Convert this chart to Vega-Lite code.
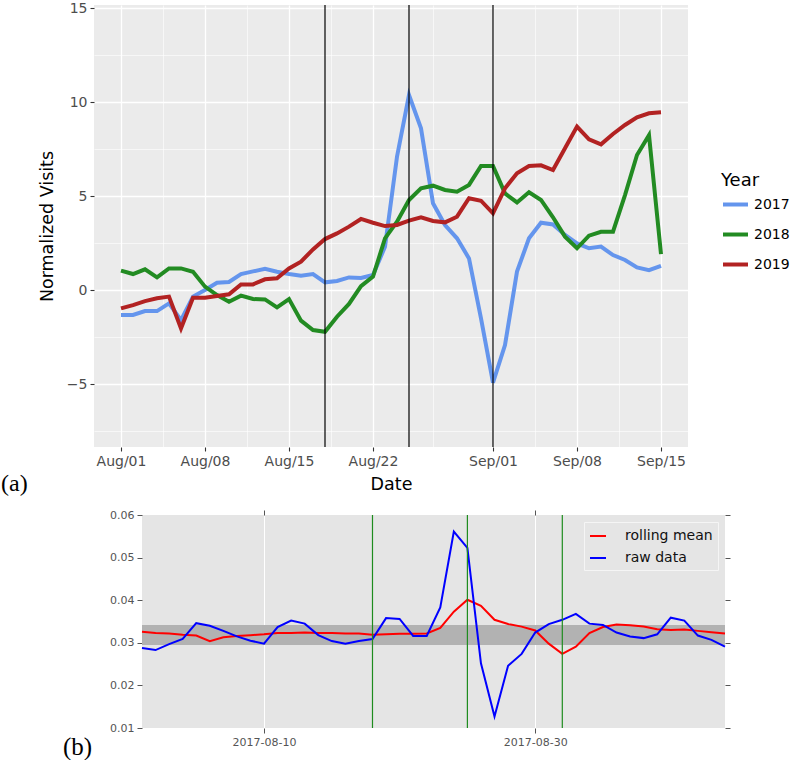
{
  "$schema": "https://vega.github.io/schema/vega-lite/v6.json",
  "padding": {"left": 1, "top": 1, "right": 0, "bottom": 0},
  "bounds": "flush",
  "spacing": 68,
  "config": {
    "font": "DejaVu Sans",
    "view": {"stroke": null},
    "title": {"font": "Liberation Serif", "fontWeight": "normal", "color": "#000000"}
  },
  "resolve": {"scale": {"color": "independent"}, "legend": {"color": "independent"}},
  "datasets": {
    "visits": [
      {"date": "2017-08-01", "year": "2017", "visits": -1.33},
      {"date": "2017-08-02", "year": "2017", "visits": -1.33},
      {"date": "2017-08-03", "year": "2017", "visits": -1.12},
      {"date": "2017-08-04", "year": "2017", "visits": -1.12},
      {"date": "2017-08-05", "year": "2017", "visits": -0.71},
      {"date": "2017-08-06", "year": "2017", "visits": -1.6},
      {"date": "2017-08-07", "year": "2017", "visits": -0.35},
      {"date": "2017-08-08", "year": "2017", "visits": 0.0},
      {"date": "2017-08-09", "year": "2017", "visits": 0.39},
      {"date": "2017-08-10", "year": "2017", "visits": 0.43},
      {"date": "2017-08-11", "year": "2017", "visits": 0.85},
      {"date": "2017-08-12", "year": "2017", "visits": 0.99},
      {"date": "2017-08-13", "year": "2017", "visits": 1.13},
      {"date": "2017-08-14", "year": "2017", "visits": 0.97},
      {"date": "2017-08-15", "year": "2017", "visits": 0.85},
      {"date": "2017-08-16", "year": "2017", "visits": 0.76},
      {"date": "2017-08-17", "year": "2017", "visits": 0.85},
      {"date": "2017-08-18", "year": "2017", "visits": 0.41},
      {"date": "2017-08-19", "year": "2017", "visits": 0.48},
      {"date": "2017-08-20", "year": "2017", "visits": 0.67},
      {"date": "2017-08-21", "year": "2017", "visits": 0.64},
      {"date": "2017-08-22", "year": "2017", "visits": 0.80},
      {"date": "2017-08-23", "year": "2017", "visits": 2.3},
      {"date": "2017-08-24", "year": "2017", "visits": 7.09},
      {"date": "2017-08-25", "year": "2017", "visits": 10.37},
      {"date": "2017-08-26", "year": "2017", "visits": 8.6},
      {"date": "2017-08-27", "year": "2017", "visits": 4.61},
      {"date": "2017-08-28", "year": "2017", "visits": 3.46},
      {"date": "2017-08-29", "year": "2017", "visits": 2.75},
      {"date": "2017-08-30", "year": "2017", "visits": 1.68},
      {"date": "2017-08-31", "year": "2017", "visits": -1.51},
      {"date": "2017-09-01", "year": "2017", "visits": -4.93},
      {"date": "2017-09-02", "year": "2017", "visits": -2.93},
      {"date": "2017-09-03", "year": "2017", "visits": 0.98},
      {"date": "2017-09-04", "year": "2017", "visits": 2.75},
      {"date": "2017-09-05", "year": "2017", "visits": 3.58},
      {"date": "2017-09-06", "year": "2017", "visits": 3.49},
      {"date": "2017-09-07", "year": "2017", "visits": 2.93},
      {"date": "2017-09-08", "year": "2017", "visits": 2.48},
      {"date": "2017-09-09", "year": "2017", "visits": 2.22},
      {"date": "2017-09-10", "year": "2017", "visits": 2.31},
      {"date": "2017-09-11", "year": "2017", "visits": 1.86},
      {"date": "2017-09-12", "year": "2017", "visits": 1.6},
      {"date": "2017-09-13", "year": "2017", "visits": 1.2},
      {"date": "2017-09-14", "year": "2017", "visits": 1.06},
      {"date": "2017-09-15", "year": "2017", "visits": 1.29},
      {"date": "2017-08-01", "year": "2018", "visits": 1.03},
      {"date": "2017-08-02", "year": "2018", "visits": 0.85},
      {"date": "2017-08-03", "year": "2018", "visits": 1.1},
      {"date": "2017-08-04", "year": "2018", "visits": 0.67},
      {"date": "2017-08-05", "year": "2018", "visits": 1.15},
      {"date": "2017-08-06", "year": "2018", "visits": 1.15},
      {"date": "2017-08-07", "year": "2018", "visits": 0.97},
      {"date": "2017-08-08", "year": "2018", "visits": 0.18},
      {"date": "2017-08-09", "year": "2018", "visits": -0.27},
      {"date": "2017-08-10", "year": "2018", "visits": -0.62},
      {"date": "2017-08-11", "year": "2018", "visits": -0.3},
      {"date": "2017-08-12", "year": "2018", "visits": -0.48},
      {"date": "2017-08-13", "year": "2018", "visits": -0.5},
      {"date": "2017-08-14", "year": "2018", "visits": -0.92},
      {"date": "2017-08-15", "year": "2018", "visits": -0.48},
      {"date": "2017-08-16", "year": "2018", "visits": -1.63},
      {"date": "2017-08-17", "year": "2018", "visits": -2.13},
      {"date": "2017-08-18", "year": "2018", "visits": -2.22},
      {"date": "2017-08-19", "year": "2018", "visits": -1.42},
      {"date": "2017-08-20", "year": "2018", "visits": -0.74},
      {"date": "2017-08-21", "year": "2018", "visits": 0.21},
      {"date": "2017-08-22", "year": "2018", "visits": 0.71},
      {"date": "2017-08-23", "year": "2018", "visits": 2.75},
      {"date": "2017-08-24", "year": "2018", "visits": 3.63},
      {"date": "2017-08-25", "year": "2018", "visits": 4.79},
      {"date": "2017-08-26", "year": "2018", "visits": 5.41},
      {"date": "2017-08-27", "year": "2018", "visits": 5.55},
      {"date": "2017-08-28", "year": "2018", "visits": 5.32},
      {"date": "2017-08-29", "year": "2018", "visits": 5.23},
      {"date": "2017-08-30", "year": "2018", "visits": 5.59},
      {"date": "2017-08-31", "year": "2018", "visits": 6.6},
      {"date": "2017-09-01", "year": "2018", "visits": 6.6},
      {"date": "2017-09-02", "year": "2018", "visits": 5.14},
      {"date": "2017-09-03", "year": "2018", "visits": 4.66},
      {"date": "2017-09-04", "year": "2018", "visits": 5.2},
      {"date": "2017-09-05", "year": "2018", "visits": 4.79},
      {"date": "2017-09-06", "year": "2018", "visits": 3.87},
      {"date": "2017-09-07", "year": "2018", "visits": 2.84},
      {"date": "2017-09-08", "year": "2018", "visits": 2.22},
      {"date": "2017-09-09", "year": "2018", "visits": 2.89},
      {"date": "2017-09-10", "year": "2018", "visits": 3.1},
      {"date": "2017-09-11", "year": "2018", "visits": 3.1},
      {"date": "2017-09-12", "year": "2018", "visits": 5.05},
      {"date": "2017-09-13", "year": "2018", "visits": 7.18},
      {"date": "2017-09-14", "year": "2018", "visits": 8.24},
      {"date": "2017-09-15", "year": "2018", "visits": 1.91},
      {"date": "2017-08-01", "year": "2019", "visits": -0.98},
      {"date": "2017-08-02", "year": "2019", "visits": -0.8},
      {"date": "2017-08-03", "year": "2019", "visits": -0.59},
      {"date": "2017-08-04", "year": "2019", "visits": -0.44},
      {"date": "2017-08-05", "year": "2019", "visits": -0.35},
      {"date": "2017-08-06", "year": "2019", "visits": -2.04},
      {"date": "2017-08-07", "year": "2019", "visits": -0.41},
      {"date": "2017-08-08", "year": "2019", "visits": -0.41},
      {"date": "2017-08-09", "year": "2019", "visits": -0.32},
      {"date": "2017-08-10", "year": "2019", "visits": -0.23},
      {"date": "2017-08-11", "year": "2019", "visits": 0.3},
      {"date": "2017-08-12", "year": "2019", "visits": 0.3},
      {"date": "2017-08-13", "year": "2019", "visits": 0.57},
      {"date": "2017-08-14", "year": "2019", "visits": 0.62},
      {"date": "2017-08-15", "year": "2019", "visits": 1.15},
      {"date": "2017-08-16", "year": "2019", "visits": 1.51},
      {"date": "2017-08-17", "year": "2019", "visits": 2.16},
      {"date": "2017-08-18", "year": "2019", "visits": 2.71},
      {"date": "2017-08-19", "year": "2019", "visits": 3.01},
      {"date": "2017-08-20", "year": "2019", "visits": 3.37},
      {"date": "2017-08-21", "year": "2019", "visits": 3.78},
      {"date": "2017-08-22", "year": "2019", "visits": 3.58},
      {"date": "2017-08-23", "year": "2019", "visits": 3.4},
      {"date": "2017-08-24", "year": "2019", "visits": 3.46},
      {"date": "2017-08-25", "year": "2019", "visits": 3.69},
      {"date": "2017-08-26", "year": "2019", "visits": 3.87},
      {"date": "2017-08-27", "year": "2019", "visits": 3.67},
      {"date": "2017-08-28", "year": "2019", "visits": 3.6},
      {"date": "2017-08-29", "year": "2019", "visits": 3.9},
      {"date": "2017-08-30", "year": "2019", "visits": 4.88},
      {"date": "2017-08-31", "year": "2019", "visits": 4.75},
      {"date": "2017-09-01", "year": "2019", "visits": 4.08},
      {"date": "2017-09-02", "year": "2019", "visits": 5.41},
      {"date": "2017-09-03", "year": "2019", "visits": 6.21},
      {"date": "2017-09-04", "year": "2019", "visits": 6.6},
      {"date": "2017-09-05", "year": "2019", "visits": 6.63},
      {"date": "2017-09-06", "year": "2019", "visits": 6.38},
      {"date": "2017-09-07", "year": "2019", "visits": 7.54},
      {"date": "2017-09-08", "year": "2019", "visits": 8.69},
      {"date": "2017-09-09", "year": "2019", "visits": 8.01},
      {"date": "2017-09-10", "year": "2019", "visits": 7.75},
      {"date": "2017-09-11", "year": "2019", "visits": 8.3},
      {"date": "2017-09-12", "year": "2019", "visits": 8.78},
      {"date": "2017-09-13", "year": "2019", "visits": 9.19},
      {"date": "2017-09-14", "year": "2019", "visits": 9.4},
      {"date": "2017-09-15", "year": "2019", "visits": 9.45}
    ],
    "events": [
      {"date": "2017-08-18"},
      {"date": "2017-08-25"},
      {"date": "2017-09-01"}
    ],
    "band": [
      {"lo": 0.0295, "hi": 0.0342}
    ],
    "series": [
      {"date": "2017-08-01", "series": "rolling mean", "value": 0.0326},
      {"date": "2017-08-02", "series": "rolling mean", "value": 0.0323},
      {"date": "2017-08-03", "series": "rolling mean", "value": 0.0322},
      {"date": "2017-08-04", "series": "rolling mean", "value": 0.0319},
      {"date": "2017-08-05", "series": "rolling mean", "value": 0.0317},
      {"date": "2017-08-06", "series": "rolling mean", "value": 0.0304},
      {"date": "2017-08-07", "series": "rolling mean", "value": 0.0313},
      {"date": "2017-08-08", "series": "rolling mean", "value": 0.0316},
      {"date": "2017-08-09", "series": "rolling mean", "value": 0.0318},
      {"date": "2017-08-10", "series": "rolling mean", "value": 0.032},
      {"date": "2017-08-11", "series": "rolling mean", "value": 0.0323},
      {"date": "2017-08-12", "series": "rolling mean", "value": 0.0323},
      {"date": "2017-08-13", "series": "rolling mean", "value": 0.0324},
      {"date": "2017-08-14", "series": "rolling mean", "value": 0.0323},
      {"date": "2017-08-15", "series": "rolling mean", "value": 0.0323},
      {"date": "2017-08-16", "series": "rolling mean", "value": 0.0322},
      {"date": "2017-08-17", "series": "rolling mean", "value": 0.0322},
      {"date": "2017-08-18", "series": "rolling mean", "value": 0.0319},
      {"date": "2017-08-19", "series": "rolling mean", "value": 0.032},
      {"date": "2017-08-20", "series": "rolling mean", "value": 0.0321},
      {"date": "2017-08-21", "series": "rolling mean", "value": 0.0321},
      {"date": "2017-08-22", "series": "rolling mean", "value": 0.0322},
      {"date": "2017-08-23", "series": "rolling mean", "value": 0.0335},
      {"date": "2017-08-24", "series": "rolling mean", "value": 0.0373},
      {"date": "2017-08-25", "series": "rolling mean", "value": 0.0401},
      {"date": "2017-08-26", "series": "rolling mean", "value": 0.0387},
      {"date": "2017-08-27", "series": "rolling mean", "value": 0.0354},
      {"date": "2017-08-28", "series": "rolling mean", "value": 0.0344},
      {"date": "2017-08-29", "series": "rolling mean", "value": 0.0338},
      {"date": "2017-08-30", "series": "rolling mean", "value": 0.0329},
      {"date": "2017-08-31", "series": "rolling mean", "value": 0.0298},
      {"date": "2017-09-01", "series": "rolling mean", "value": 0.0274},
      {"date": "2017-09-02", "series": "rolling mean", "value": 0.0291},
      {"date": "2017-09-03", "series": "rolling mean", "value": 0.0323},
      {"date": "2017-09-04", "series": "rolling mean", "value": 0.0337},
      {"date": "2017-09-05", "series": "rolling mean", "value": 0.0343},
      {"date": "2017-09-06", "series": "rolling mean", "value": 0.0341},
      {"date": "2017-09-07", "series": "rolling mean", "value": 0.0338},
      {"date": "2017-09-08", "series": "rolling mean", "value": 0.0332},
      {"date": "2017-09-09", "series": "rolling mean", "value": 0.033},
      {"date": "2017-09-10", "series": "rolling mean", "value": 0.0331},
      {"date": "2017-09-11", "series": "rolling mean", "value": 0.0328},
      {"date": "2017-09-12", "series": "rolling mean", "value": 0.0325},
      {"date": "2017-09-13", "series": "rolling mean", "value": 0.0322},
      {"date": "2017-08-01", "series": "raw data", "value": 0.0288},
      {"date": "2017-08-02", "series": "raw data", "value": 0.0283},
      {"date": "2017-08-03", "series": "raw data", "value": 0.0297},
      {"date": "2017-08-04", "series": "raw data", "value": 0.0309},
      {"date": "2017-08-05", "series": "raw data", "value": 0.0346},
      {"date": "2017-08-06", "series": "raw data", "value": 0.034},
      {"date": "2017-08-07", "series": "raw data", "value": 0.0328},
      {"date": "2017-08-08", "series": "raw data", "value": 0.0315},
      {"date": "2017-08-09", "series": "raw data", "value": 0.0305},
      {"date": "2017-08-10", "series": "raw data", "value": 0.0298},
      {"date": "2017-08-11", "series": "raw data", "value": 0.0337},
      {"date": "2017-08-12", "series": "raw data", "value": 0.0352},
      {"date": "2017-08-13", "series": "raw data", "value": 0.0345},
      {"date": "2017-08-14", "series": "raw data", "value": 0.0318},
      {"date": "2017-08-15", "series": "raw data", "value": 0.0304},
      {"date": "2017-08-16", "series": "raw data", "value": 0.0298},
      {"date": "2017-08-17", "series": "raw data", "value": 0.0304},
      {"date": "2017-08-18", "series": "raw data", "value": 0.0309},
      {"date": "2017-08-19", "series": "raw data", "value": 0.0358},
      {"date": "2017-08-20", "series": "raw data", "value": 0.0356},
      {"date": "2017-08-21", "series": "raw data", "value": 0.0316},
      {"date": "2017-08-22", "series": "raw data", "value": 0.0316},
      {"date": "2017-08-23", "series": "raw data", "value": 0.0383},
      {"date": "2017-08-24", "series": "raw data", "value": 0.0561},
      {"date": "2017-08-25", "series": "raw data", "value": 0.0523},
      {"date": "2017-08-26", "series": "raw data", "value": 0.0252},
      {"date": "2017-08-27", "series": "raw data", "value": 0.0127},
      {"date": "2017-08-28", "series": "raw data", "value": 0.0246},
      {"date": "2017-08-29", "series": "raw data", "value": 0.0274},
      {"date": "2017-08-30", "series": "raw data", "value": 0.0324},
      {"date": "2017-08-31", "series": "raw data", "value": 0.0344},
      {"date": "2017-09-01", "series": "raw data", "value": 0.0354},
      {"date": "2017-09-02", "series": "raw data", "value": 0.0368},
      {"date": "2017-09-03", "series": "raw data", "value": 0.0345},
      {"date": "2017-09-04", "series": "raw data", "value": 0.0342},
      {"date": "2017-09-05", "series": "raw data", "value": 0.0324},
      {"date": "2017-09-06", "series": "raw data", "value": 0.0315},
      {"date": "2017-09-07", "series": "raw data", "value": 0.0311},
      {"date": "2017-09-08", "series": "raw data", "value": 0.032},
      {"date": "2017-09-09", "series": "raw data", "value": 0.0359},
      {"date": "2017-09-10", "series": "raw data", "value": 0.0352},
      {"date": "2017-09-11", "series": "raw data", "value": 0.0317},
      {"date": "2017-09-12", "series": "raw data", "value": 0.0307},
      {"date": "2017-09-13", "series": "raw data", "value": 0.0291}
    ]
  },
  "vconcat": [
    {
      "width": 594,
      "height": 442,
      "view": {"fill": "#EBEBEB", "stroke": null},
      "title": {"text": "(a)", "orient": "bottom", "anchor": "start", "frame": "group", "dx": -93, "dy": -25, "fontSize": 24},
      "layer": [
        {
          "data": {"name": "visits"},
          "mark": {"type": "line", "strokeWidth": 4},
          "encoding": {
            "x": {
              "field": "date", "type": "temporal", "title": "Date",
              "scale": {"type": "utc", "domain": [
                {"year": 2017, "month": "Jul", "date": 29, "hours": 18, "utc": true},
                {"year": 2017, "month": "Sep", "date": 17, "hours": 6, "utc": true}
              ]},
              "axis": {
                "values": [
                  {"year": 2017, "month": "Aug", "date": 1, "utc": true},
                  {"year": 2017, "month": "Aug", "date": 4, "hours": 12, "utc": true},
                  {"year": 2017, "month": "Aug", "date": 8, "utc": true},
                  {"year": 2017, "month": "Aug", "date": 11, "hours": 12, "utc": true},
                  {"year": 2017, "month": "Aug", "date": 15, "utc": true},
                  {"year": 2017, "month": "Aug", "date": 18, "hours": 12, "utc": true},
                  {"year": 2017, "month": "Aug", "date": 22, "utc": true},
                  {"year": 2017, "month": "Aug", "date": 27, "utc": true},
                  {"year": 2017, "month": "Sep", "date": 1, "utc": true},
                  {"year": 2017, "month": "Sep", "date": 4, "hours": 12, "utc": true},
                  {"year": 2017, "month": "Sep", "date": 8, "utc": true},
                  {"year": 2017, "month": "Sep", "date": 11, "hours": 12, "utc": true},
                  {"year": 2017, "month": "Sep", "date": 15, "utc": true}
                ],
                "labelExpr": "(utchours(datum.value) === 12 || utcdate(datum.value) === 27) ? '' : utcFormat(datum.value, '%b/%d')",
                "labelOverlap": false,
                "labelFontSize": 14,
                "labelColor": "#4D4D4D",
                "labelPadding": 3,
                "domain": false,
                "tickColor": "#333333",
                "tickSize": 4,
                "tickWidth": 1.1,
                "tickOpacity": {"condition": {"test": "utchours(datum.value) === 12 || utcdate(datum.value) === 27", "value": 0}, "value": 1},
                "gridColor": "#FFFFFF",
                "gridOpacity": 1,
                "gridWidth": {"condition": {"test": "utchours(datum.value) === 12 || utcdate(datum.value) === 27", "value": 0.6}, "value": 1.3},
                "titleFontSize": 17.5,
                "titleFontWeight": "normal",
                "titleColor": "#000000",
                "titlePadding": 7
              }
            },
            "y": {
              "field": "visits", "type": "quantitative", "title": "Normalized Visits",
              "scale": {"domain": [-8.35, 15.16], "nice": false, "zero": false},
              "axis": {
                "values": [-7.5, -5, -2.5, 0, 2.5, 5, 7.5, 10, 12.5, 15],
                "labelExpr": "datum.value % 5 === 0 ? datum.label : ''",
                "labelOverlap": false,
                "labelFontSize": 14,
                "labelColor": "#4D4D4D",
                "labelPadding": 3,
                "domain": false,
                "tickColor": "#333333",
                "tickSize": 4,
                "tickWidth": 1.1,
                "tickOpacity": {"condition": {"test": "datum.value % 5 !== 0", "value": 0}, "value": 1},
                "gridColor": "#FFFFFF",
                "gridOpacity": 1,
                "gridWidth": {"condition": {"test": "datum.value % 5 !== 0", "value": 0.6}, "value": 1.3},
                "titleFontSize": 17.5,
                "titleFontWeight": "normal",
                "titleColor": "#000000",
                "titlePadding": 10
              }
            },
            "color": {
              "field": "year", "type": "nominal",
              "scale": {"domain": ["2017", "2018", "2019"], "range": ["#6495ED", "#228B22", "#B22222"]},
              "legend": {
                "title": "Year",
                "orient": "none",
                "legendX": 627,
                "legendY": 167,
                "padding": 0,
                "symbolType": "stroke",
                "symbolSize": 625,
                "symbolStrokeWidth": 4,
                "labelFontSize": 14,
                "labelColor": "#000000",
                "labelOffset": 4,
                "rowPadding": 7,
                "titleFontSize": 18,
                "titleFontWeight": "normal",
                "titleColor": "#000000",
                "titlePadding": 0
              }
            }
          }
        },
        {
          "data": {"name": "events"},
          "mark": {"type": "rule", "color": "#000000", "strokeWidth": 1.2},
          "encoding": {
            "x": {"field": "date", "type": "temporal", "scale": {"type": "utc"}}
          }
        }
      ]
    },
    {
      "bounds": "flush",
      "spacing": 0,
      "resolve": {"scale": {"color": "independent"}, "legend": {"color": "independent"}},
      "hconcat": [
        {
          "width": 48,
          "height": 213,
          "view": {"stroke": null},
          "data": {"values": [{"k": 1}]},
          "mark": {"type": "point", "opacity": 0}
        },
        {
          "width": 583,
          "height": 213,
          "view": {"fill": "#E5E5E5", "stroke": null},
          "title": {"text": "(b)", "orient": "bottom", "anchor": "start", "frame": "group", "dx": -79, "dy": -16, "fontSize": 25},
          "resolve": {"axis": {"x": "independent", "y": "independent"}},
          "layer": [
            {
              "data": {"name": "band"},
              "mark": {"type": "rect", "color": "#B2B2B2"},
              "encoding": {
                "y": {"field": "lo", "type": "quantitative", "axis": null},
                "y2": {"field": "hi"}
              }
            },
            {
              "data": {"name": "series"},
              "transform": [{"filter": "datum.series === 'rolling mean'"}],
              "mark": {"type": "line", "strokeWidth": 2},
              "encoding": {
                "x": {
                  "field": "date", "type": "temporal", "title": null,
                  "scale": {"type": "utc", "domain": [
                    {"year": 2017, "month": "Aug", "date": 1, "utc": true},
                    {"year": 2017, "month": "Sep", "date": 13, "utc": true}
                  ]},
                  "axis": {
                    "values": [
                      {"year": 2017, "month": "Aug", "date": 10, "utc": true},
                      {"year": 2017, "month": "Aug", "date": 30, "utc": true}
                    ],
                    "labelExpr": "utcFormat(datum.value, '%Y-%m-%d')",
                    "labelFontSize": 11,
                    "labelColor": "#555555",
                    "labelPadding": 3,
                    "domain": false,
                    "tickColor": "#555555",
                    "tickSize": 5,
                    "gridColor": "#FFFFFF",
                    "gridOpacity": 1,
                    "gridWidth": 1
                  }
                },
                "y": {
                  "field": "value", "type": "quantitative", "title": null,
                  "scale": {"domain": [0.01, 0.06], "nice": false, "zero": false},
                  "axis": {
                    "values": [0.01, 0.02, 0.03, 0.04, 0.05, 0.06],
                    "format": ".2f",
                    "labelFontSize": 11,
                    "labelColor": "#555555",
                    "labelPadding": 3,
                    "domain": false,
                    "tickColor": "#555555",
                    "tickSize": 5,
                    "gridColor": "#FFFFFF",
                    "gridOpacity": 1,
                    "gridWidth": 1
                  }
                },
                "color": {
                  "field": "series", "type": "nominal",
                  "scale": {"domain": ["rolling mean", "raw data"], "range": ["#FF0000", "#0000FF"]},
                  "legend": {
                    "title": null,
                    "orient": "top-right",
                    "offset": 7,
                    "padding": 5,
                    "fillColor": "#E5E5E5",
                    "strokeColor": "#F5F5F5",
                    "symbolType": "stroke",
                    "symbolSize": 256,
                    "symbolStrokeWidth": 2,
                    "labelFontSize": 14,
                    "labelColor": "#111111",
                    "labelOffset": 18,
                    "rowPadding": 6
                  }
                }
              }
            },
            {
              "data": {"name": "series"},
              "transform": [{"filter": "datum.series === 'raw data'"}],
              "mark": {"type": "line", "strokeWidth": 2},
              "encoding": {
                "x": {
                  "field": "date", "type": "temporal", "scale": {"type": "utc"},
                  "axis": {
                    "orient": "top",
                    "values": [
                      {"year": 2017, "month": "Aug", "date": 10, "utc": true},
                      {"year": 2017, "month": "Aug", "date": 30, "utc": true}
                    ],
                    "labels": false, "grid": false, "domain": false, "title": null,
                    "tickColor": "#555555", "tickSize": 5
                  }
                },
                "y": {
                  "field": "value", "type": "quantitative",
                  "axis": {
                    "orient": "right",
                    "values": [0.01, 0.02, 0.03, 0.04, 0.05, 0.06],
                    "labels": false, "grid": false, "domain": false, "title": null,
                    "tickColor": "#555555", "tickSize": 5
                  }
                },
                "color": {"field": "series", "type": "nominal"}
              }
            },
            {
              "data": {"name": "events"},
              "mark": {"type": "rule", "color": "#1E8C1E", "strokeWidth": 1.2},
              "encoding": {
                "x": {"field": "date", "type": "temporal", "scale": {"type": "utc"}, "axis": null}
              }
            }
          ]
        }
      ]
    }
  ]
}
